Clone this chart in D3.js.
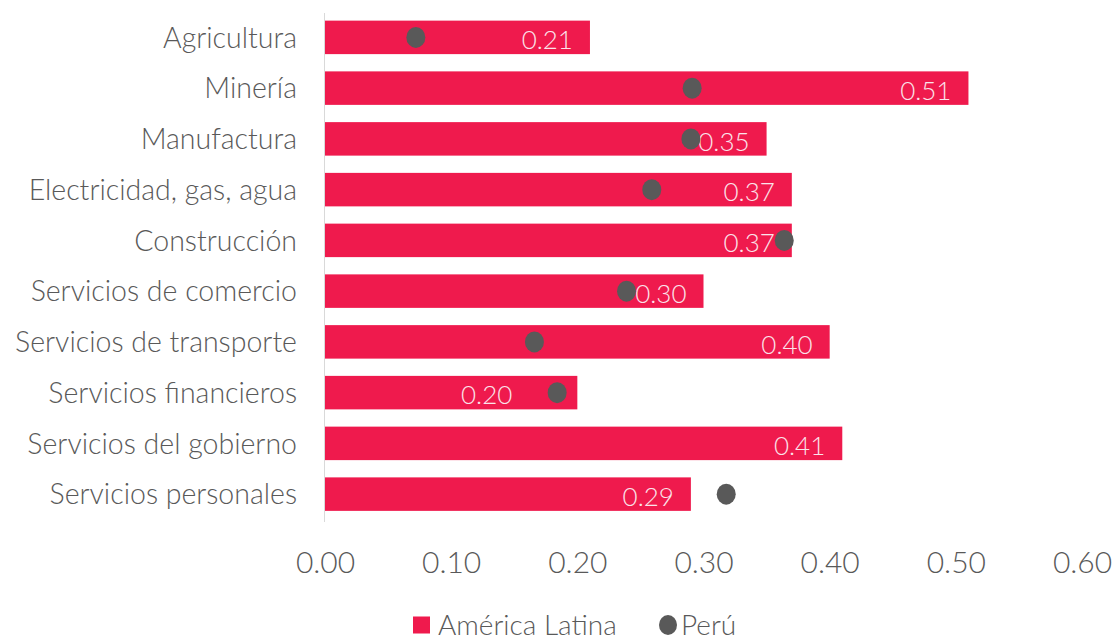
<!DOCTYPE html>
<html>
<head>
<meta charset="utf-8">
<script src="https://cdn.jsdelivr.net/npm/d3@7"></script>
<style>
  html, body { margin: 0; padding: 0; background: #ffffff; }
  svg { display: block; }
  text { font-family: Lato, "Open Sans", sans-serif; font-weight: 300; }
</style>
</head>
<body>
<svg id="chart" width="1116" height="641"></svg>
<script>
// Sectors, top to bottom
const categories = [
  "Agricultura",
  "Minería",
  "Manufactura",
  "Electricidad, gas, agua",
  "Construcción",
  "Servicios de comercio",
  "Servicios de transporte",
  "Servicios financieros",
  "Servicios del gobierno",
  "Servicios personales"
];
// América Latina (bars)
const latamValues = [0.21, 0.51, 0.35, 0.37, 0.37, 0.30, 0.40, 0.20, 0.41, 0.29];
// Perú (dots); no value shown for government services
const peruValues = [0.072, 0.291, 0.29, 0.259, 0.364, 0.239, 0.166, 0.184, null, 0.318];
const xTicks = [0, 0.1, 0.2, 0.3, 0.4, 0.5, 0.6];
const seriesNames = ["América Latina", "Perú"];

const barColor = "#EF1A4D";
const dotColor = "#595959";
const textColor = "#595959";

// value label pushed left where the dot sits on the bar end
const labelNudge = { "Servicios financieros": -48 };

const svg = d3.select("#chart");

const x = d3.scaleLinear().domain([0, 0.6]).range([325, 1082]);
const y = d3.scaleBand().domain(categories).range([12, 519.5]).paddingInner(0.34).paddingOuter(0.17);
const mid = d => y(d) + y.bandwidth() / 2;

// vertical category axis line
svg.append("line")
  .attr("x1", x(0) - 0.5).attr("x2", x(0) - 0.5)
  .attr("y1", 13).attr("y2", 522)
  .attr("stroke", "#d9d9d9").attr("stroke-width", 1);

// category labels
svg.append("g").selectAll("text")
  .data(categories)
  .join("text")
  .attr("x", 297)
  .attr("y", mid)
  .attr("dy", "0.36em")
  .attr("text-anchor", "end")
  .attr("font-size", 28.5)
  .attr("fill", textColor)
  .text(d => d);

// bars
svg.append("g").selectAll("rect")
  .data(categories)
  .join("rect")
  .attr("x", x(0))
  .attr("y", d => y(d))
  .attr("width", (d, i) => x(latamValues[i]) - x(0))
  .attr("height", y.bandwidth())
  .attr("fill", barColor);

// value labels inside bar ends
svg.append("g").selectAll("text")
  .data(categories)
  .join("text")
  .attr("x", (d, i) => x(latamValues[i]) - 17 + (labelNudge[d] || 0))
  .attr("y", d => mid(d) + 2.5)
  .attr("dy", "0.36em")
  .attr("text-anchor", "end")
  .attr("font-size", 26)
  .attr("fill", "#fbe3ea")
  .text((d, i) => latamValues[i].toFixed(2));

// Perú dots
svg.append("g").selectAll("ellipse")
  .data(categories.map((c, i) => ({ c, v: peruValues[i] })).filter(d => d.v !== null))
  .join("ellipse")
  .attr("cx", d => x(d.v))
  .attr("cy", d => mid(d.c))
  .attr("rx", 9.5)
  .attr("ry", 10.5)
  .attr("fill", dotColor);

// x axis tick labels
const xAxis = d3.axisBottom(x).tickValues(xTicks).tickFormat(d3.format(".2f")).tickSize(0).tickPadding(0);
const gx = svg.append("g").attr("transform", "translate(0,562)").call(xAxis);
gx.select(".domain").remove();
gx.selectAll("text")
  .attr("font-size", 30)
  .attr("fill", textColor)
  .attr("font-family", "Lato, 'Open Sans', sans-serif")
  .attr("y", 0)
  .attr("dy", "0.36em");

// legend
const legend = svg.append("g").attr("transform", "translate(413,625)");
legend.append("rect").attr("x", 0).attr("y", -8.5).attr("width", 17).attr("height", 17).attr("fill", barColor);
legend.append("text").attr("x", 25).attr("y", 0).attr("dy", "0.36em")
  .attr("font-size", 28).attr("fill", textColor).text(seriesNames[0]);
legend.append("ellipse").attr("cx", 255).attr("cy", 0).attr("rx", 9).attr("ry", 10).attr("fill", dotColor);
legend.append("text").attr("x", 268).attr("y", 0).attr("dy", "0.36em")
  .attr("font-size", 28).attr("fill", textColor).text(seriesNames[1]);
</script>
</body>
</html>
